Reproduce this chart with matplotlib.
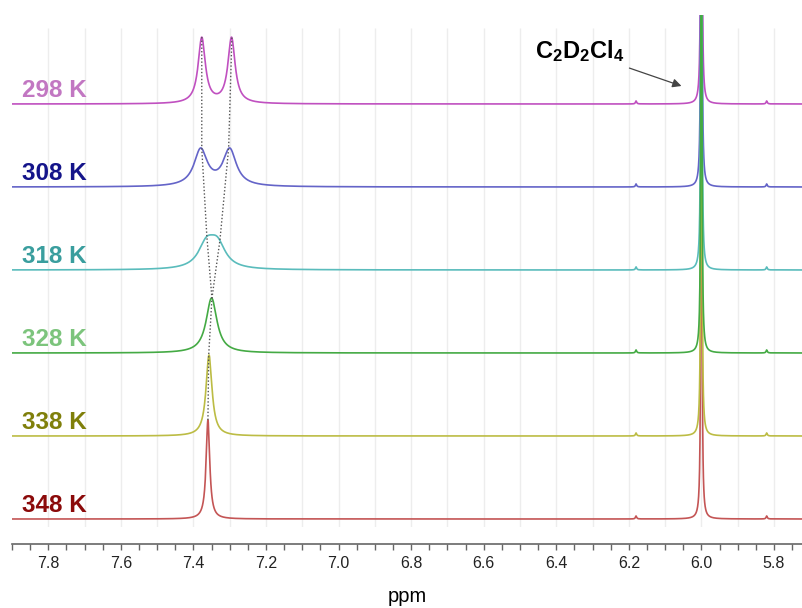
import numpy as np
import matplotlib
matplotlib.use("Agg")
import matplotlib.pyplot as plt
from matplotlib.ticker import MultipleLocator

plt.rcParams['font.family'] = ['Liberation Sans', 'DejaVu Sans']
plt.rcParams['mathtext.fontset'] = 'custom'
plt.rcParams['mathtext.rm'] = 'Liberation Sans'
plt.rcParams['mathtext.bf'] = 'Liberation Sans:bold'

# temperatures, label / line colours, vertical offsets
temps = ['298 K', '308 K', '318 K', '328 K', '338 K', '348 K']
label_colors = ['#c277c2', '#14148a', '#3a9e9e', '#7cc47c', '#7f7f0a', '#8b0a0a']
line_colors = ['#c050c0', '#6464c8', '#5abcbc', '#44aa44', '#bcbc44', '#c45555']
offsets = [415, 332, 249, 166, 83, 0]

# aromatic peaks per temperature: (ppm, height, half width)
peaks = [
    [(7.377, 65.5, 0.012), (7.295, 65.5, 0.012)],
    [(7.380, 36.5, 0.022), (7.300, 36.5, 0.022)],
    [(7.364, 23.0, 0.027), (7.334, 23.0, 0.027)],
    [(7.350, 55.0, 0.018)],
    [(7.357, 81.0, 0.010)],
    [(7.360, 99.0, 0.006)],
]
# solvent peak and its satellites (same in every spectrum)
solvent = [(6.000, 700.0, 0.0014), (6.180, 3.0, 0.002), (5.820, 3.0, 0.002)]

# dotted guides following the peak tops
left_track = [7.377, 7.377, 7.363, 7.349, 7.358, 7.360]
right_track = [7.294, 7.303, 7.327, 7.349]

grid_ppm = np.round(np.arange(5.8, 7.85, 0.1), 2)


def spectrum(x, plist):
    y = np.zeros_like(x)
    for pos, h, w in plist:
        y += h / (1 + ((x - pos) / w) ** 2)
    return y


x = np.linspace(5.72, 7.9, 16000)

fig = plt.figure(figsize=(8.03, 6.08), dpi=100)
ax = fig.add_axes([12 / 803, 1 - 527 / 608, 791 / 803, 512 / 608])

ax.vlines(grid_ppm, -8, 491, color='#ededed', lw=1, zorder=0)

order = [0, 1, 5, 4, 2, 3]
for i in order:
    y = offsets[i] + spectrum(x, peaks[i] + solvent)
    ax.plot(x, y, color=line_colors[i], lw=1.2, zorder=2)

for i, t in enumerate(temps):
    ax.text(7.872, offsets[i] + 7, t, color=label_colors[i], fontsize=17.5,
            fontweight='bold', ha='left', va='baseline')

lt_y = [offsets[i] + spectrum(np.array([p]), peaks[i])[0] for i, p in enumerate(left_track)]
rt_y = [offsets[i] + spectrum(np.array([p]), peaks[i])[0] for i, p in enumerate(right_track)]
ax.plot(left_track, lt_y, ls=(0, (1, 1.5)), color='#555555', lw=1, zorder=3)
ax.plot(right_track, rt_y, ls=(0, (1, 1.5)), color='#555555', lw=1, zorder=3)

ax.annotate(r'$\mathbf{C_2D_2Cl_4}$', xy=(6.055, 433), xytext=(6.335, 468),
            fontsize=17, ha='center', va='center',
            arrowprops=dict(arrowstyle='-|>', color='#444444', lw=0.9,
                            mutation_scale=13, shrinkA=3, shrinkB=0))

ax.set_xlim(7.9, 5.72)
ax.set_ylim(-8, 504)
ax.xaxis.set_major_locator(MultipleLocator(0.2))
ax.xaxis.set_minor_locator(MultipleLocator(0.05))
ax.xaxis.set_major_formatter(plt.FuncFormatter(lambda v, p: f'{v:.1f}'))
ax.tick_params(axis='x', which='both', length=4, width=1, color='#666666',
               labelsize=11.5, labelcolor='#222222', pad=5)
ax.set_yticks([])
for s in ['left', 'right', 'top']:
    ax.spines[s].set_visible(False)
ax.spines['bottom'].set_position(('outward', 12.2))
ax.spines['bottom'].set_color('#666666')
ax.spines['bottom'].set_linewidth(1.2)
ax.set_xlabel('ppm', fontsize=14.5, labelpad=11)

plt.savefig('out.png', dpi=100)
